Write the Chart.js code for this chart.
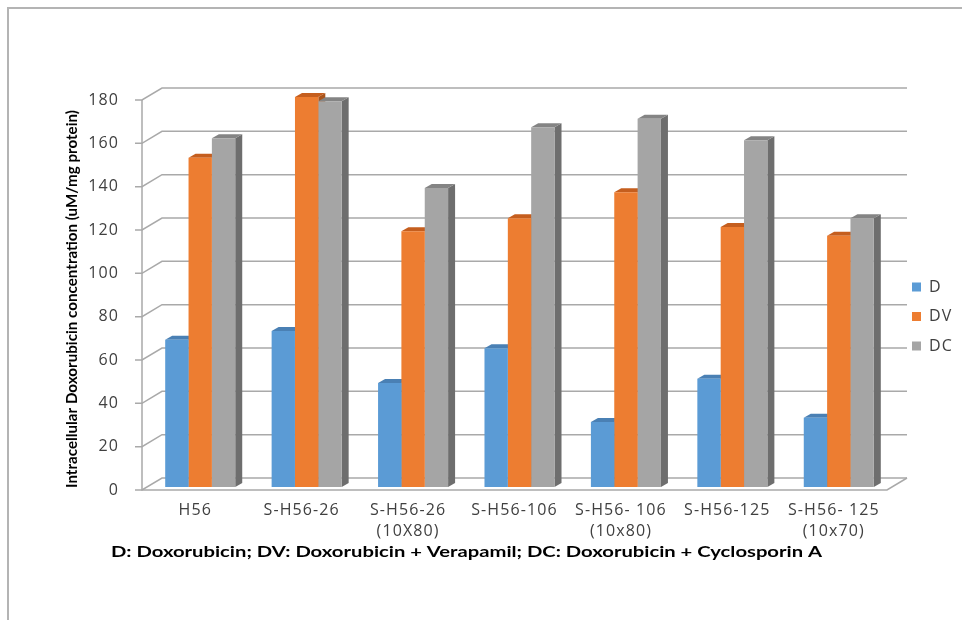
<!DOCTYPE html>
<html>
<head>
<meta charset="utf-8">
<script src="https://cdn.jsdelivr.net/npm/chart.js@4.4.1/dist/chart.umd.min.js"></script>
<style>
  html, body { margin: 0; padding: 0; background: #ffffff; }
  canvas { display: block; }
</style>
</head>
<body>
<canvas id="chart" width="962" height="620"></canvas>
<script>
// ---- data ----
const categories = [
  'H56',
  'S-H56-26',
  ['S-H56-26', '(10X80)'],
  'S-H56-106',
  ['S-H56- 106', '(10x80)'],
  'S-H56-125',
  ['S-H56- 125', '(10x70)']
];
const seriesNames = ['D', 'DV', 'DC'];
const valuesD  = [68, 72, 48, 64, 30, 50, 32];
const valuesDV = [152, 180, 118, 124, 136, 120, 116];
const valuesDC = [161, 178, 138, 166, 170, 160, 124];
const yMin = 0, yMax = 180, yStep = 20;
const yTitle = 'Intracellular Doxorubicin concentration (uM/mg protein)';
const caption = 'D: Doxorubicin; DV: Doxorubicin + Verapamil; DC: Doxorubicin + Cyclosporin A';

// ---- styles ----
const frontColors = ['#5B9BD5', '#ED7D31', '#A5A5A5'];
const topColors   = ['#4A80B4', '#C55E1E', '#848484'];
const sideColors  = ['#3F6E9A', '#A9541C', '#6E6E6E'];
const gridColor = '#A9A9A9';
const textColor = '#404040';
const tickFont = 'Open Sans';
const tickSpacing = '1.1px';

// 3D offsets relative to the bar front-face plane
const FRONT = { dx: -5, dy: 3 };   // front edge of the floor / axis plane
const BACK  = { dx: 15, dy: -9 };  // back wall plane
const BAR_D = { dx: 7, dy: -4 };   // depth of each column

function setSpacing(ctx, v) {
  try { ctx.letterSpacing = v; } catch (e) {}
}

const columns3d = {
  id: 'columns3d',
  beforeDraw(chart) {
    setSpacing(chart.ctx, tickSpacing);
  },
  beforeDatasetsDraw(chart) {
    const ctx = chart.ctx;
    const a = chart.chartArea;
    const ys = chart.scales.y;
    ctx.save();
    setSpacing(ctx, '0px');
    ctx.strokeStyle = gridColor;
    ctx.lineWidth = 1.5;
    // back wall gridlines with side-wall diagonals and front tick marks
    ys.ticks.forEach(t => {
      const y = ys.getPixelForValue(t.value);
      ctx.beginPath();
      ctx.moveTo(a.left + FRONT.dx - 7, y + FRONT.dy);
      ctx.lineTo(a.left + FRONT.dx, y + FRONT.dy);
      ctx.lineTo(a.left + BACK.dx, y + BACK.dy);
      ctx.lineTo(a.right + BACK.dx, y + BACK.dy);
      ctx.stroke();
    });
    const y0 = ys.getPixelForValue(yMin);
    const yTop = ys.getPixelForValue(yMax);
    // vertical axis line
    ctx.beginPath();
    ctx.moveTo(a.left + FRONT.dx, yTop + FRONT.dy);
    ctx.lineTo(a.left + FRONT.dx, y0 + FRONT.dy);
    // floor front and right edges
    ctx.lineTo(a.right + FRONT.dx, y0 + FRONT.dy);
    ctx.lineTo(a.right + BACK.dx, y0 + BACK.dy);
    ctx.stroke();

    // top and side faces of the columns
    const n = chart.data.labels.length;
    for (let i = 0; i < n; i++) {
      chart.data.datasets.forEach((ds, d) => {
        const el = chart.getDatasetMeta(d).data[i];
        const p = el.getProps(['x', 'y', 'base', 'width'], true);
        const xl = p.x - p.width / 2, xr = p.x + p.width / 2;
        // side
        ctx.fillStyle = sideColors[d];
        ctx.beginPath();
        ctx.moveTo(xr, p.y);
        ctx.lineTo(xr + BAR_D.dx, p.y + BAR_D.dy);
        ctx.lineTo(xr + BAR_D.dx, p.base + BAR_D.dy);
        ctx.lineTo(xr, p.base);
        ctx.closePath();
        ctx.fill();
        // top
        ctx.fillStyle = topColors[d];
        ctx.beginPath();
        ctx.moveTo(xl, p.y);
        ctx.lineTo(xr, p.y);
        ctx.lineTo(xr + BAR_D.dx, p.y + BAR_D.dy);
        ctx.lineTo(xl + BAR_D.dx, p.y + BAR_D.dy);
        ctx.closePath();
        ctx.fill();
      });
    }
    ctx.restore();
  },
  afterDraw(chart) {
    const ctx = chart.ctx;
    ctx.save();
    setSpacing(ctx, '0px');

    // outer frame
    ctx.strokeStyle = '#B4B4B4';
    ctx.lineWidth = 2;
    ctx.beginPath();
    ctx.moveTo(8, 620);
    ctx.lineTo(8, 8);
    ctx.lineTo(962, 8);
    ctx.stroke();

    // legend
    ctx.font = '16px "' + tickFont + '"';
    ctx.textBaseline = 'middle';
    ctx.textAlign = 'left';
    setSpacing(ctx, tickSpacing);
    chart.data.datasets.forEach((ds, d) => {
      const cy = 287 + d * 29.5;
      ctx.fillStyle = ds.backgroundColor;
      ctx.fillRect(912, cy - 4.5, 9, 9);
      ctx.fillStyle = textColor;
      ctx.fillText(ds.label, 929, cy);
    });
    setSpacing(ctx, '0px');

    // vertical axis title
    ctx.fillStyle = '#000000';
    ctx.font = 'bold 13px Lato';
    const tw = ctx.measureText(yTitle).width;
    const tLen = 378;
    ctx.save();
    ctx.translate(72, 488);
    ctx.rotate(-Math.PI / 2);
    ctx.scale(tLen / tw, 1.15);
    ctx.textAlign = 'left';
    ctx.textBaseline = 'middle';
    ctx.fillText(yTitle, 0, 0);
    ctx.restore();

    // caption under the chart
    ctx.font = 'bold 16px Lato';
    const cw = ctx.measureText(caption).width;
    const cLen = 711;
    ctx.save();
    ctx.translate(111, 552);
    ctx.scale(cLen / cw, 1);
    ctx.textAlign = 'left';
    ctx.textBaseline = 'middle';
    ctx.fillText(caption, 0, 0);
    ctx.restore();

    ctx.restore();
  }
};

new Chart(document.getElementById('chart'), {
  type: 'bar',
  data: {
    labels: categories,
    datasets: [
      { label: seriesNames[0], data: valuesD,  backgroundColor: frontColors[0] },
      { label: seriesNames[1], data: valuesDV, backgroundColor: frontColors[1] },
      { label: seriesNames[2], data: valuesDC, backgroundColor: frontColors[2] }
    ]
  },
  options: {
    responsive: false,
    animation: false,
    events: [],
    layout: { padding: { left: 64, right: 70, top: 97, bottom: 0 } },
    datasets: {
      bar: { categoryPercentage: 0.658, barPercentage: 1.0, borderWidth: 0 }
    },
    plugins: {
      legend: { display: false },
      tooltip: { enabled: false },
      title: { display: false }
    },
    scales: {
      x: {
        grid: { display: false },
        border: { display: false },
        ticks: {
          color: textColor,
          font: { family: tickFont, size: 16, lineHeight: 1.3 },
          padding: 5,
          labelOffset: FRONT.dx,
          maxRotation: 0,
          autoSkip: false
        },
        afterFit(s) { s.height = 133; }
      },
      y: {
        min: yMin,
        max: yMax,
        grid: { display: false },
        border: { display: false },
        ticks: {
          stepSize: yStep,
          color: textColor,
          font: { family: tickFont, size: 16 },
          padding: 20,
          labelOffset: FRONT.dy
        },
        afterFit(s) { s.width = 83; }
      }
    }
  },
  plugins: [columns3d]
});
</script>
</body>
</html>
